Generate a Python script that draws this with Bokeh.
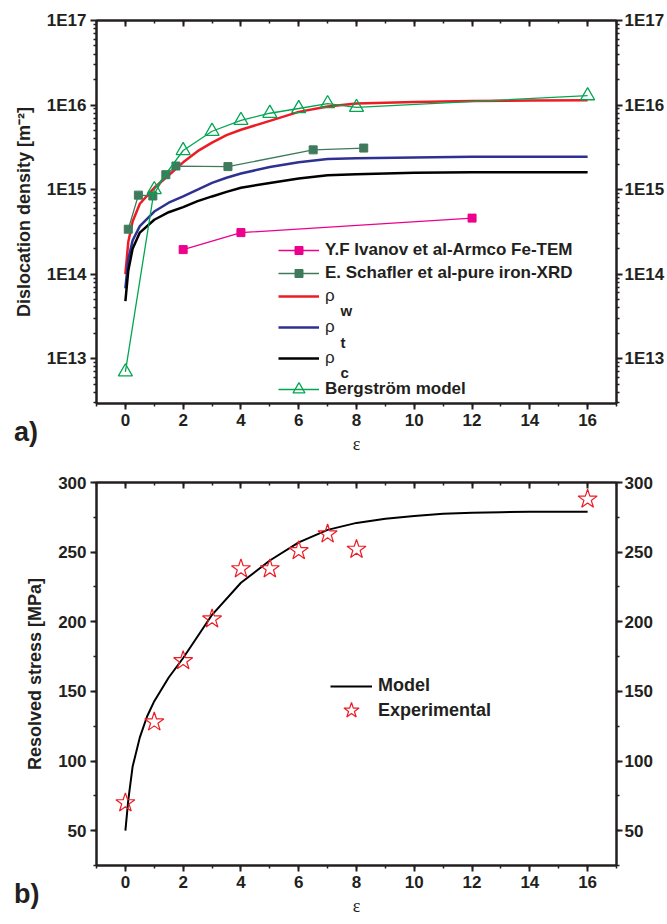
from bokeh.plotting import figure
from bokeh.models import (Legend, LegendItem, LinearAxis, LogAxis, FixedTicker, GridBox, Div,
                          SingleIntervalTicker, CustomJSTickFormatter, Label, Range1d)
from bokeh.embed import file_html
from bokeh.resources import INLINE

# ---------------- data: dislocation density vs strain ----------------
ivanov_eps = [2, 4, 12]
ivanov_rho = [1.95e14, 3.1e14, 4.6e14]

schafler_eps = [0.1, 0.45, 0.95, 1.4, 1.75, 3.55, 6.5, 8.25]
schafler_rho = [3.4e14, 8.6e14, 8.4e14, 1.5e15, 1.9e15, 1.87e15, 2.95e15, 3.1e15]

bergstrom_eps = [0, 1, 2, 3, 4, 5, 6, 7, 8, 16]
bergstrom_rho = [7e12, 1.0e15, 2.9e15, 4.9e15, 6.6e15, 8.0e15, 9.1e15, 1.04e16, 9.4e15, 1.29e16]

model_eps = [0, 0.1, 0.25, 0.5, 1, 1.5, 2, 2.5, 3, 3.5, 4, 5, 6, 7, 8, 10, 12, 14, 16]
rho_w = [1.0e14, 2.4e14, 4.2e14, 6.8e14, 1.05e15, 1.48e15, 2.1e15, 2.85e15, 3.6e15, 4.4e15,
         5.1e15, 6.5e15, 8.3e15, 9.6e15, 1.04e16, 1.09e16, 1.12e16, 1.13e16, 1.14e16]
rho_t = [6.8e13, 1.5e14, 2.5e14, 3.7e14, 5.5e14, 7.0e14, 8.3e14, 1.0e15, 1.2e15, 1.38e15,
         1.55e15, 1.85e15, 2.1e15, 2.3e15, 2.35e15, 2.4e15, 2.45e15, 2.45e15, 2.45e15]
rho_c = [4.8e13, 1.1e14, 2.0e14, 3.1e14, 4.4e14, 5.4e14, 6.2e14, 7.3e14, 8.3e14, 9.4e14,
         1.05e15, 1.2e15, 1.35e15, 1.48e15, 1.52e15, 1.58e15, 1.6e15, 1.6e15, 1.6e15]

rho_ticks = [1e13, 1e14, 1e15, 1e16, 1e17]
rho_tick_labels = ["1E13", "1E14", "1E15", "1E16", "1E17"]

# ---------------- data: resolved stress vs strain ----------------
stress_model_eps = [0, 0.1, 0.25, 0.5, 0.75, 1, 1.5, 2, 3, 4, 5, 6, 7, 8, 9, 10, 11, 12, 13, 14, 16]
stress_model = [50, 72, 96, 117, 132, 143, 160, 174, 205, 228, 244, 257, 266, 271, 274,
                276, 277.5, 278.3, 278.7, 279, 279]
stress_exp_eps = [0, 1, 2, 3, 4, 5, 6, 7, 8, 16]
stress_exp = [70, 128, 172, 202, 238, 238, 251, 263, 252, 288]

# ---------------- styling ----------------
TICK_FONT = "'Liberation Sans', sans-serif"
TEXT_FONT = "'Liberation Sans', sans-serif"
INK = "#231f20"

RED = "#ed1c24"
BLUE = "#2e3192"
MAGENTA = "#ec008c"
DKGREEN = "#3f7a5c"
GREEN = "#00a651"

blank_fmt = CustomJSTickFormatter(code="return '';")


def style_axis(ax, show_labels=True, inward=False):
    ax.axis_line_width = 2
    ax.axis_line_color = INK
    ax.major_tick_line_width = 2
    ax.major_tick_line_color = INK
    ax.minor_tick_line_width = 1.5
    ax.minor_tick_line_color = INK
    if inward:
        ax.major_tick_in, ax.major_tick_out = 6, 0
        ax.minor_tick_in, ax.minor_tick_out = 3, 0
    else:
        ax.major_tick_in, ax.major_tick_out = 0, 6
        ax.minor_tick_in, ax.minor_tick_out = 0, 3
    ax.major_label_text_font = TICK_FONT
    ax.major_label_text_font_style = "bold"
    ax.major_label_text_color = INK
    ax.major_label_standoff = 4
    ax.major_label_text_font_size = "17px"
    if not show_labels:
        ax.formatter = blank_fmt
        ax.major_label_standoff = 0
    ax.axis_label_text_font = TEXT_FONT
    ax.axis_label_text_font_style = "bold"
    ax.axis_label_text_font_size = "18px"
    ax.axis_label_text_color = INK


def make_fig(**kw):
    p = figure(width=667, height=462, output_backend="svg", toolbar_location=None,
               min_border_left=96, min_border_right=51, min_border_top=20,
               min_border_bottom=59, background_fill_color="white",
               border_fill_color="white", **kw)
    p.xgrid.visible = False
    p.ygrid.visible = False
    p.outline_line_color = INK
    p.outline_line_width = 2
    return p


def x_axes(p):
    xt = SingleIntervalTicker(interval=2, num_minor_ticks=2)
    p.xaxis.ticker = xt
    style_axis(p.xaxis[0])
    p.xaxis.axis_label = "ε"
    p.xaxis.axis_label_text_font = "'Liberation Serif', serif"
    p.xaxis.axis_label_text_font_style = "normal"
    p.xaxis.axis_label_text_font_size = "18px"
    p.xaxis.axis_label_standoff = 5
    top = LinearAxis(ticker=xt)
    style_axis(top, show_labels=False, inward=True)
    p.add_layout(top, "above")


def panel_letter(text):
    # letter overlaid on the lower-left corner of its panel
    return Div(text=text, align=("start", "end"), margin=(0, 0, 15, 14),
               styles={"font-family": "'Liberation Sans', sans-serif", "font-weight": "bold",
                       "font-size": "27px", "color": INK, "line-height": "30px"})


def legend(items, loc, font_style="bold", size="17px", gw=41, gh=20, spacing=3, lh=20):
    return Legend(items=items, location=loc, orientation="vertical",
                  border_line_color=None, background_fill_alpha=0,
                  padding=0, margin=0, spacing=spacing, label_standoff=6,
                  glyph_width=gw, glyph_height=gh, label_height=lh,
                  label_text_font=TEXT_FONT, label_text_font_style=font_style,
                  label_text_font_size=size, label_text_color=INK)


# ================= a) dislocation density =================
p1 = make_fig(y_axis_type="log", x_range=Range1d(-1, 17), y_range=Range1d(10 ** 12.47, 1e17))
x_axes(p1)

minor = [k * 10.0 ** d for d in range(12, 17) for k in range(2, 10)]
rho_ticker = FixedTicker(ticks=rho_ticks, minor_ticks=minor)
rho_fmt = CustomJSTickFormatter(
    args=dict(decades=rho_ticks, names=rho_tick_labels),
    code="""
const i = decades.findIndex(d => Math.abs(Math.log10(d) - Math.log10(tick)) < 1e-6);
return i >= 0 ? names[i] : '';
""")
p1.yaxis.ticker = rho_ticker
p1.yaxis.formatter = rho_fmt
style_axis(p1.yaxis[0])
p1.yaxis.axis_label = "Dislocation density [m⁻²]"
p1.yaxis.axis_label_standoff = 10
right1 = LogAxis(ticker=rho_ticker, formatter=rho_fmt)
style_axis(right1)
right1.major_label_standoff = 2
p1.add_layout(right1, "right")

r_w = p1.line(model_eps, rho_w, line_color=RED, line_width=2.5)
r_t = p1.line(model_eps, rho_t, line_color=BLUE, line_width=2.5)
r_c = p1.line(model_eps, rho_c, line_color="black", line_width=2.5)

iv_l = p1.line(ivanov_eps, ivanov_rho, line_color=MAGENTA, line_width=1.3)
iv_m = p1.scatter(ivanov_eps, ivanov_rho, marker="square", size=8,
                  fill_color=MAGENTA, line_color=MAGENTA)
sc_l = p1.line(schafler_eps, schafler_rho, line_color=DKGREEN, line_width=1.3)
sc_m = p1.scatter(schafler_eps, schafler_rho, marker="square", size=8,
                  fill_color=DKGREEN, line_color=DKGREEN)
bg_l = p1.line(bergstrom_eps, bergstrom_rho, line_color=GREEN, line_width=1.3)
bg_m = p1.scatter(bergstrom_eps, bergstrom_rho, marker="triangle", size=14,
                  fill_color="white", fill_alpha=0, line_color=GREEN, line_width=1.3)

leg_a = legend([LegendItem(label="Y.F Ivanov et al-Armco Fe-TEM", renderers=[iv_l, iv_m]),
                LegendItem(label="E. Schafler et al-pure iron-XRD", renderers=[sc_l, sc_m])],
               (182, 120))
leg_b = legend([LegendItem(label="ρ", renderers=[r_w]),
                LegendItem(label="ρ", renderers=[r_t]),
                LegendItem(label="ρ", renderers=[r_c])],
               (182, 33), font_style="normal", size="17px", gh=24, spacing=7)
leg_c = legend([LegendItem(label="Bergström model", renderers=[bg_l, bg_m])], (182, -1),
               gh=30, lh=30)
for lg in (leg_a, leg_b, leg_c):
    p1.add_layout(lg)

# subscripts of the rho entries
for sub, y in (("w", 93), ("t", 61), ("c", 31)):
    p1.add_layout(Label(x=244, y=y, x_units="screen", y_units="screen", text=sub,
                        text_font=TEXT_FONT, text_font_style="bold",
                        text_font_size="15px", text_color=INK,
                        text_baseline="alphabetic"))

# ================= b) resolved stress =================
p2 = make_fig(x_range=Range1d(-1, 17), y_range=Range1d(25, 300))
x_axes(p2)
st_ticker = SingleIntervalTicker(interval=50, num_minor_ticks=2)
p2.yaxis.ticker = st_ticker
style_axis(p2.yaxis[0])
p2.yaxis.axis_label = "Resolved stress [MPa]"
p2.yaxis.axis_label_standoff = 10
right2 = LinearAxis(ticker=st_ticker)
style_axis(right2)
right2.major_label_standoff = 2
p2.add_layout(right2, "right")

m_l = p2.line(stress_model_eps, stress_model, line_color="black", line_width=2)
e_m = p2.scatter(stress_exp_eps, stress_exp, marker="star", size=20,
                 fill_color="white", fill_alpha=0, line_color=RED, line_width=1.2)

leg_model = legend([LegendItem(label="Model", renderers=[m_l])], (234, 169),
                   size="18px", gw=42, gh=20, lh=20)
leg_exp = legend([LegendItem(label="Experimental", renderers=[e_m])], (234, 135),
                 size="18px", gw=42, gh=40, lh=40)
p2.add_layout(leg_model)
p2.add_layout(leg_exp)

layout = GridBox(children=[(p1, 0, 0), (p2, 1, 0),
                           (panel_letter("a)"), 0, 0), (panel_letter("b)"), 1, 0)],
                 spacing=0)
open("out.html", "w").write(file_html(layout, INLINE))
